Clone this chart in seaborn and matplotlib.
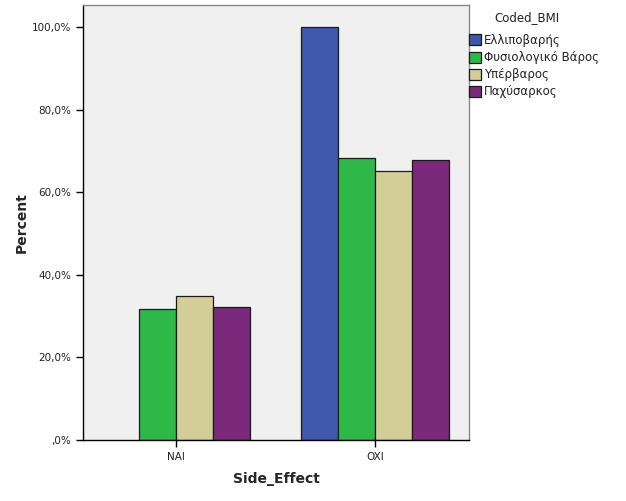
import matplotlib
matplotlib.use("Agg")
import matplotlib.pyplot as plt
import matplotlib.ticker as mticker
from matplotlib.patches import Patch
import seaborn as sns
import pandas as pd
import numpy as np

categories = ["NAI", "OXI"]
bmi_groups = ["Ελλιποβαρής", "Φυσιολογικό Βάρος", "Υπέρβαρος", "Παχύσαρκος"]
values_nai = [np.nan, 31.7, 34.9, 32.2]
values_oxi = [100.0, 68.3, 65.1, 67.8]
colors = ["#3E58AC", "#2EB848", "#D3CE97", "#7B2A7B"]

rows = []
for g, v in zip(bmi_groups, values_nai):
    rows.append({"Side_Effect": "NAI", "Coded_BMI": g, "Percent": v})
for g, v in zip(bmi_groups, values_oxi):
    rows.append({"Side_Effect": "OXI", "Coded_BMI": g, "Percent": v})
df = pd.DataFrame(rows)

sns.set_style("white")
plt.rcParams['font.family'] = ['DejaVu Sans']

fig = plt.figure(figsize=(6.26, 5.01), dpi=100)
ax = fig.add_axes([83/626, 61/501, (469-83)/626, (440-5)/501])
ax.set_facecolor("#F0F0F0")

sns.barplot(data=df, x="Side_Effect", y="Percent", hue="Coded_BMI",
            order=categories, hue_order=bmi_groups, palette=colors,
            width=0.74, edgecolor="#1a1a1a", linewidth=0.9, saturation=1,
            errorbar=None, ax=ax, legend=False)

ax.set_xlim(-0.467, 1.472)
ax.set_ylim(0, 105.3)
ax.set_yticks([0, 20, 40, 60, 80, 100])
ax.yaxis.set_major_formatter(mticker.FuncFormatter(
    lambda v, p: ",0%" if v == 0 else f"{v:.1f}%".replace(".", ",")))
ax.tick_params(axis="both", direction="out", length=5, width=1, color="black",
               labelsize=7.5, labelcolor="#222222", left=True, bottom=True)
ax.set_ylabel("Percent", fontsize=10, fontweight="bold", labelpad=2)
ax.set_xlabel("Side_Effect", fontsize=10, fontweight="bold", labelpad=7)

for s in ["left", "bottom"]:
    ax.spines[s].set_color("black")
    ax.spines[s].set_linewidth(1)
for s in ["top", "right"]:
    ax.spines[s].set_color("#888888")
    ax.spines[s].set_linewidth(1)

fig.text(527/626, 1 - 18/501, "Coded_BMI", ha="center", va="center",
         fontsize=8.5, color="#222222")
handles = [Patch(facecolor=c, edgecolor="#1a1a1a", linewidth=0.9) for c in colors]
leg = fig.legend(handles, bmi_groups, loc="upper left",
                 bbox_to_anchor=(469/626, 1 - 34/501), frameon=False,
                 fontsize=8.5, handlelength=1.05, handleheight=1.05,
                 handletextpad=0.25, labelspacing=0.35, borderaxespad=0,
                 borderpad=0)
for t in leg.get_texts():
    t.set_color("#222222")

fig.savefig("out.png", dpi=100)
